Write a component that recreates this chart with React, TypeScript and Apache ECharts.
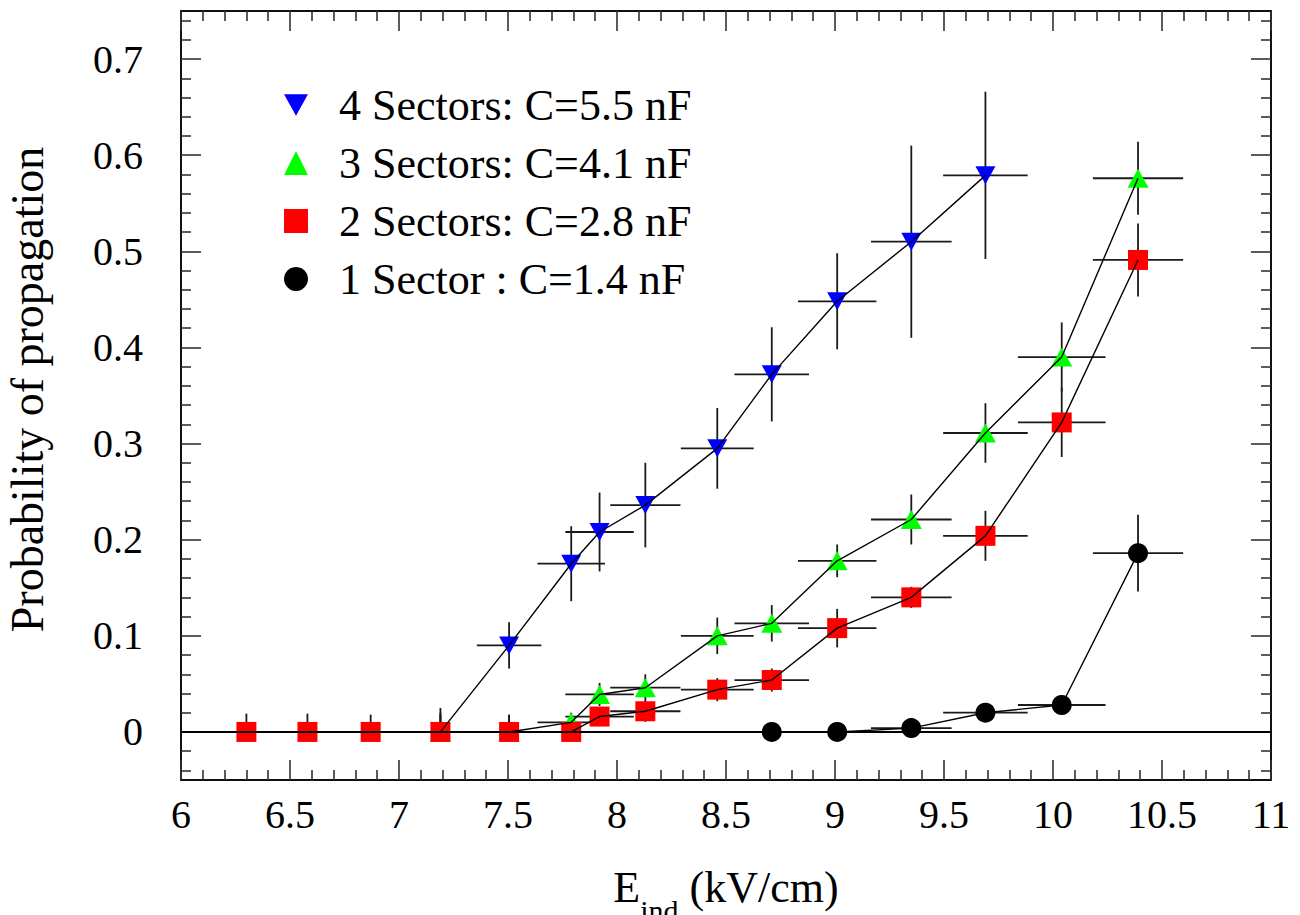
import React, { useEffect, useRef } from 'react';
import * as echarts from 'echarts';

// ---- Data ----
const E_FIELD = [6.30, 6.58, 6.87, 7.19, 7.505, 7.79, 7.92, 8.13, 8.46, 8.71, 9.01, 9.35, 9.69, 10.04, 10.39];
const E_ERR = [0.126, 0.132, 0.137, 0.143, 0.148, 0.155, 0.157, 0.161, 0.167, 0.171, 0.18, 0.185, 0.194, 0.201, 0.207];

const S4_E = [7.19, 7.505, 7.79, 7.92, 8.13, 8.46, 8.71, 9.01, 9.35, 9.69];
const S4_P = [0, 0.090, 0.175, 0.208, 0.236, 0.295, 0.372, 0.448, 0.510, 0.579];
const S4_ERR = [0.025, 0.024, 0.039, 0.041, 0.044, 0.042, 0.049, 0.050, 0.100, 0.087];

const S3_E = [7.19, 7.505, 7.79, 7.92, 8.13, 8.46, 8.71, 9.01, 9.35, 9.69, 10.04, 10.39];
const S3_P = [0, 0, 0.010, 0.039, 0.046, 0.100, 0.113, 0.178, 0.221, 0.311, 0.390, 0.576];
const S3_ERR = [0.018, 0.018, 0.010, 0.012, 0.014, 0.019, 0.019, 0.017, 0.026, 0.031, 0.036, 0.038];

const S2_E = [6.30, 6.58, 6.87, 7.19, 7.505, 7.79, 7.92, 8.13, 8.46, 8.71, 9.01, 9.35, 9.69, 10.04, 10.39];
const S2_P = [0, 0, 0, 0, 0, 0, 0.016, 0.0215, 0.044, 0.054, 0.108, 0.140, 0.204, 0.322, 0.491];
const S2_ERR = [0.019, 0.019, 0.018, 0.020, 0.018, 0.010, 0.010, 0.011, 0.012, 0.012, 0.020, 0.011, 0.026, 0.036, 0.038];

const S1_E = [8.71, 9.01, 9.35, 9.69, 10.04, 10.39];
const S1_P = [0, 0, 0.004, 0.020, 0.028, 0.186];
const S1_ERR = [0.005, 0.005, 0.004, 0.008, 0.010, 0.040];

const NAMES = ['4 Sectors: C=5.5 nF', '3 Sectors: C=4.1 nF', '2 Sectors: C=2.8 nF', '1 Sector : C=1.4 nF'];
const COLORS = ['#0000ff', '#00ff00', '#ff0000', '#000000'];

const X_MIN = 6;
const X_MAX = 11;
const Y_MIN = -0.05;
const Y_MAX = 0.75;
const Y_TICKS = [0, 0.1, 0.2, 0.3, 0.4, 0.5, 0.6, 0.7];

const FONT = 'Liberation Serif';

function buildMinorY(): number[] {
  const out: number[] = [];
  for (let i = -2; i <= 37; i++) {
    if (i % 5 === 0) continue;
    out.push(Math.round(i * 0.02 * 1000) / 1000);
  }
  return out;
}
const Y_MINOR = buildMinorY();

function xErrFor(e: number): number {
  const i = E_FIELD.indexOf(e);
  return i >= 0 ? E_ERR[i] : 0.15;
}

const App: React.FC = () => {
  const ref = useRef<HTMLDivElement>(null);

  useEffect(() => {
    if (!ref.current) return;
    const chart = echarts.init(ref.current, undefined, { renderer: 'svg' });

    const groups = [
      { e: S4_E, p: S4_P, err: S4_ERR, symbol: 'path://M0,0L20,0L10,18Z', size: [20, 18] },
      { e: S3_E, p: S3_P, err: S3_ERR, symbol: 'triangle', size: [21, 19] },
      { e: S2_E, p: S2_P, err: S2_ERR, symbol: 'rect', size: [20, 20] },
      { e: S1_E, p: S1_P, err: S1_ERR, symbol: 'circle', size: [20, 20] },
    ];

    const series: any[] = [];
    groups.forEach((g, gi) => {
      const errData = g.e.map((x, i) => [x, g.p[i], xErrFor(x), g.p[i] > 0 ? g.err[i] : 0, g.err[i]]);
      series.push({
        name: 'err' + gi,
        type: 'custom',
        xAxisIndex: 0,
        yAxisIndex: 0,
        z: 2,
        clip: true,
        silent: true,
        encode: { x: 0, y: 1 },
        data: errData,
        renderItem: (params: any, api: any) => {
          const x = api.value(0);
          const y = api.value(1);
          const xe = api.value(2);
          const ylo = api.value(3);
          const yhi = api.value(4);
          const pL = api.coord([x - xe, y]);
          const pR = api.coord([x + xe, y]);
          const pB = api.coord([x, y - ylo]);
          const pT = api.coord([x, y + yhi]);
          const st = { stroke: '#1a1a1a', lineWidth: 1.8 };
          return {
            type: 'group',
            children: [
              { type: 'line', shape: { x1: pL[0], y1: pL[1], x2: pR[0], y2: pR[1] }, style: st },
              { type: 'line', shape: { x1: pB[0], y1: pB[1], x2: pT[0], y2: pT[1] }, style: st },
            ],
          };
        },
      });
      series.push({
        name: NAMES[gi],
        type: 'scatter',
        xAxisIndex: 0,
        yAxisIndex: 0,
        z: 3,
        symbol: g.symbol,
        symbolSize: g.size,
        itemStyle: { color: COLORS[gi], opacity: 1 },
        data: g.e.map((x, i) => [x, g.p[i]]),
      });
      series.push({
        name: 'line' + gi,
        type: 'line',
        xAxisIndex: 0,
        yAxisIndex: 0,
        z: 4,
        symbol: 'none',
        showSymbol: false,
        lineStyle: { color: '#000', width: 1.4 },
        data: g.e.map((x, i) => [x, g.p[i]]),
        markLine: gi === 3 ? {
          silent: true,
          symbol: ['none', 'none'],
          label: { show: false },
          lineStyle: { color: '#000', width: 2, type: 'solid' },
          data: [{ yAxis: 0 }],
          z: 6,
        } : undefined,
      });
    });

    const tickStyle = { color: '#333', width: 1.6 };
    const axisLineStyle = { color: '#111', width: 2 };

    const xAxisBase = {
      type: 'value',
      min: X_MIN,
      max: X_MAX,
      interval: 0.5,
      axisLine: { show: true, onZero: false, lineStyle: axisLineStyle },
      axisTick: { show: true, inside: true, length: 20, lineStyle: tickStyle },
      minorTick: { show: true, splitNumber: 5, length: 10, lineStyle: tickStyle },
      splitLine: { show: false },
      minorSplitLine: { show: false },
    };

    const yMajorBase = {
      type: 'value',
      min: Y_MIN,
      max: Y_MAX,
      axisLine: { show: true, onZero: false, lineStyle: axisLineStyle },
      axisTick: { show: true, inside: true, length: 20, lineStyle: tickStyle, customValues: Y_TICKS },
      splitLine: { show: false },
    };
    const yMinorBase = {
      type: 'value',
      min: Y_MIN,
      max: Y_MAX,
      axisLine: { show: false },
      axisTick: { show: true, inside: true, length: 10, lineStyle: tickStyle, customValues: Y_MINOR },
      axisLabel: { show: false },
      splitLine: { show: false },
    };

    const option: any = {
      animation: false,
      backgroundColor: '#ffffff',
      textStyle: { fontFamily: FONT },
      grid: { left: 181, right: 29, top: 11, bottom: 135, containLabel: false, outerBoundsMode: 'none' },
      legend: {
        data: NAMES,
        orient: 'vertical',
        left: 279,
        top: 78,
        itemWidth: 24,
        itemHeight: 24,
        itemGap: 14,
        selectedMode: false,
        textStyle: { fontSize: 44, fontFamily: FONT, color: '#000', padding: [0, 0, 0, 26] },
      },
      xAxis: [
        {
          ...xAxisBase,
          position: 'bottom',
          axisLabel: {
            show: true,
            fontSize: 40,
            fontFamily: FONT,
            color: '#000',
            margin: 14,
            formatter: (v: number) => String(Math.round(v * 10) / 10),
          },
          name: '{a|E}{b|ind}{a| (kV/cm)}',
          nameLocation: 'middle',
          nameGap: 69,
          nameTextStyle: {
            rich: {
              a: { fontSize: 44, fontFamily: FONT, color: '#000' },
              b: { fontSize: 30, fontFamily: FONT, color: '#000', padding: [46, 0, 0, 0] },
            },
          },
        },
        { ...xAxisBase, position: 'top', axisLabel: { show: false } },
      ],
      yAxis: [
        {
          ...yMajorBase,
          position: 'left',
          axisLabel: {
            show: true,
            customValues: Y_TICKS,
            fontSize: 40,
            fontFamily: FONT,
            color: '#000',
            margin: 38,
            formatter: (v: number) => (Math.abs(v) < 1e-9 ? '0' : (Math.round(v * 10) / 10).toFixed(1)),
          },
          name: 'Probability of propagation',
          nameLocation: 'middle',
          nameRotate: 90,
          nameGap: 131,
          nameTextStyle: { fontSize: 46, fontFamily: FONT, color: '#000', padding: [0, 0, 0, 12] },
        },
        { ...yMinorBase, position: 'left' },
        { ...yMajorBase, position: 'right', axisLabel: { show: false } },
        { ...yMinorBase, position: 'right' },
      ],
      series,
    };

    chart.setOption(option);
    return () => {
      chart.dispose();
    };
  }, []);

  return (
    <div
      ref={ref}
      style={{ position: 'fixed', left: 0, top: 0, width: 1300, height: 915, background: '#fff' }}
    />
  );
};

export default App;
